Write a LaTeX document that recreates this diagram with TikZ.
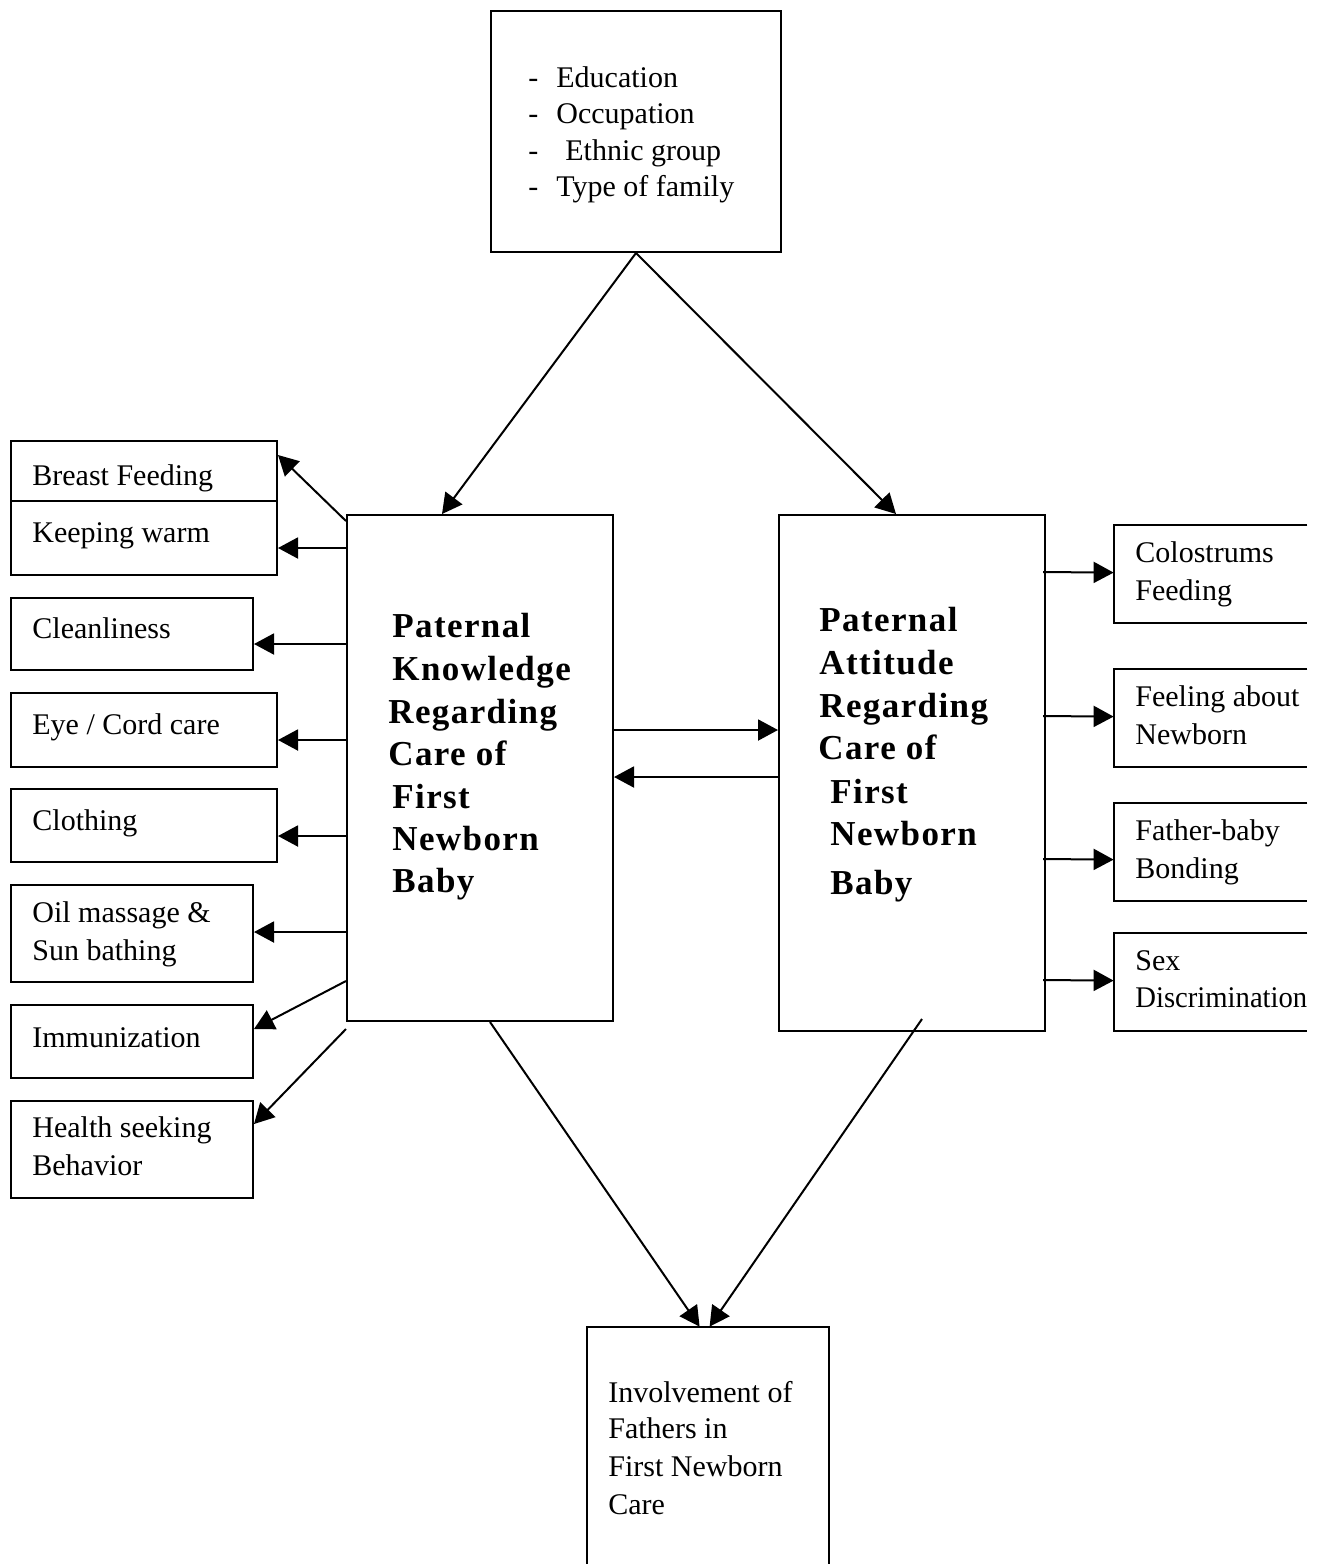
\documentclass[tikz,border=0pt]{standalone}
\usepackage{fontspec}
\usepackage{graphicx}
\setmainfont{Liberation Serif}
\newfontfamily\spacedserif[LetterSpace=4]{Liberation Serif}
\usetikzlibrary{arrows.meta,fit,calc}
\begin{document}
\begin{tikzpicture}[x=0.5pt,y=-0.5pt,
  box/.style={draw,line width=1pt,inner sep=0pt},
  openbox/.style={inner sep=0pt},
  lbl/.style={anchor=base west,inner sep=0pt,font=\fontsize{15}{18}\selectfont},
  blbl/.style={anchor=base west,inner sep=0pt,font=\spacedserif\bfseries\fontsize{17.5}{21}\selectfont},
  arr/.style={-{Triangle[length=10pt,width=10.5pt]},line width=1pt}]
\useasboundingbox (0,0) rectangle (1320,1564);
\fill[white] (0,0) rectangle (1320,1564);

% main boxes
\node[box,fit={(491,11)(781,252)}] (top) {};
\node[box,fit={(347,515)(613,1021)}] (kn) {};
\node[box,fit={(779,515)(1045,1031)}] (at) {};
\node[openbox,fit={(587,1327)(829,1572)}] (inv) {};
\draw[line width=1pt] (inv.south west) -- (inv.north west) -- (inv.north east) -- (inv.south east);

% left boxes
\node[box,fit={(11,441)(277,501)}] (bf) {};
\node[box,fit={(11,501)(277,575)}] (kw) {};
\node[box,fit={(11,598)(253,670)}] (cl) {};
\node[box,fit={(11,693)(277,767)}] (ey) {};
\node[box,fit={(11,789)(277,862)}] (ct) {};
\node[box,fit={(11,885)(253,982)}] (om) {};
\node[box,fit={(11,1005)(253,1078)}] (im) {};
\node[box,fit={(11,1101)(253,1198)}] (hs) {};

% right boxes (cut at right)
\node[openbox,fit={(1114,525)(1307,623)}] (cf) {};
\node[openbox,fit={(1114,669)(1307,767)}] (fn) {};
\node[openbox,fit={(1114,803)(1307,901)}] (fb) {};
\node[openbox,fit={(1114,933)(1307,1031)}] (sd) {};
\foreach \b in {cf,fn,fb,sd}
  \draw[line width=1pt] (\b.north east) -- (\b.north west) -- (\b.south west) -- (\b.south east);

% texts: top box
\node[lbl] (t1) at (528,87) {\makebox[14pt][l]{-}Education};
\node[lbl] (t2) at (528,123) {\makebox[14pt][l]{-}Occupation};
\node[lbl] (t3) at (528,160) {\makebox[14pt][l]{-}\hspace{4.5pt}Ethnic group};
\node[lbl] (t4) at (528,196) {\makebox[14pt][l]{-}Type of family};

% left texts
\node[lbl] (l1) at (32,485) {Breast Feeding};
\node[lbl] (l2) at (32,542) {Keeping warm};
\node[lbl] (l3) at (32,638) {Cleanliness};
\node[lbl] (l4) at (32,734) {Eye / Cord care};
\node[lbl] (l5) at (32,830) {Clothing};
\node[lbl] (l6) at (32,922) {Oil massage \&};
\node[lbl] (l7) at (32,960) {Sun bathing};
\node[lbl] (l8) at (32,1047) {Immunization};
\node[lbl] (l9) at (32,1137) {Health seeking};
\node[lbl] (l10) at (32,1175) {Behavior};

% right texts
\node[lbl] (r1) at (1135,562) {Colostrums};
\node[lbl] (r2) at (1135,600) {Feeding};
\node[lbl] (r3) at (1135,706) {Feeling about};
\node[lbl] (r4) at (1135,744) {Newborn};
\node[lbl] (r5) at (1135,840) {Father-baby};
\node[lbl] (r6) at (1135,878) {Bonding};
\node[lbl] (r7) at (1135,970) {Sex};
\node[lbl] (r8) at (1135,1007) {\scalebox{0.955}[1]{Discrimination}};

% bottom text
\node[lbl] (b1) at (608,1402) {Involvement of};
\node[lbl] (b2) at (608,1438) {Fathers in};
\node[lbl] (b3) at (608,1476) {First Newborn};
\node[lbl] (b4) at (608,1514) {Care};

% bold knowledge
\node[blbl] (k1) at (392,637) {Paternal};
\node[blbl] (k2) at (392,680) {Knowledge};
\node[blbl] (k3) at (388,723) {Regarding};
\node[blbl] (k4) at (388,765) {Care of};
\node[blbl] (k5) at (392,808) {First};
\node[blbl] (k6) at (392,850) {Newborn};
\node[blbl] (k7) at (392,892) {Baby};

% bold attitude
\node[blbl] (a1) at (819,631) {Paternal};
\node[blbl] (a2) at (819,674) {Attitude};
\node[blbl] (a3) at (819,717) {Regarding};
\node[blbl] (a4) at (818,759) {Care of};
\node[blbl] (a5) at (830,803) {First};
\node[blbl] (a6) at (830,845) {Newborn};
\node[blbl] (a7) at (830,894) {Baby};

% arrows from top
\draw[arr] (top.south) -- ($(kn.north west)+(96,0)$);
\draw[arr] (top.south) -- ($(at.north west)+(118,0)$);

% arrows to bottom
\draw[arr] ($(kn.south west)+(144,0)$) -- ($(inv.north west)+(113,0)$);
\draw[arr] ($(at.south west)+(144,-13)$) -- ($(inv.north west)+(123,0)$);

% left arrows
\draw[arr] ($(kn.north west)+(0,7)$) -- ($(bf.north east)+(0,15)$);
\draw[arr] ($(kn.north west)+(0,34)$) -- ($(kw.north east)+(0,48)$);
\draw[arr] ($(kn.north west)+(0,130)$) -- ($(cl.north east)+(0,47)$);
\draw[arr] ($(kn.north west)+(0,226)$) -- ($(ey.north east)+(0,48)$);
\draw[arr] ($(kn.north west)+(0,322)$) -- ($(ct.north east)+(0,48)$);
\draw[arr] ($(kn.north west)+(0,418)$) -- ($(om.north east)+(0,48)$);
\draw[arr] ($(kn.north west)+(0,467)$) -- ($(im.north east)+(0,25)$);
\draw[arr] ($(kn.south west)+(0,7)$) -- ($(hs.north east)+(0,24)$);

% middle arrows
\draw[arr] ($(kn.north east)+(0,216)$) -- ($(at.north west)+(0,216)$);
\draw[arr] ($(at.north west)+(0,263)$) -- ($(kn.north east)+(0,263)$);

% right arrows
\draw[arr] ($(at.north east)+(-3,58)$) -- ($(cf.north west)+(0,48)$);
\draw[arr] ($(at.north east)+(-3,202)$) -- ($(fn.north west)+(0,48)$);
\draw[arr] ($(at.north east)+(-3,345)$) -- ($(fb.north west)+(0,57)$);
\draw[arr] ($(at.north east)+(-3,466)$) -- ($(sd.north west)+(0,48)$);
\end{tikzpicture}
\end{document}
